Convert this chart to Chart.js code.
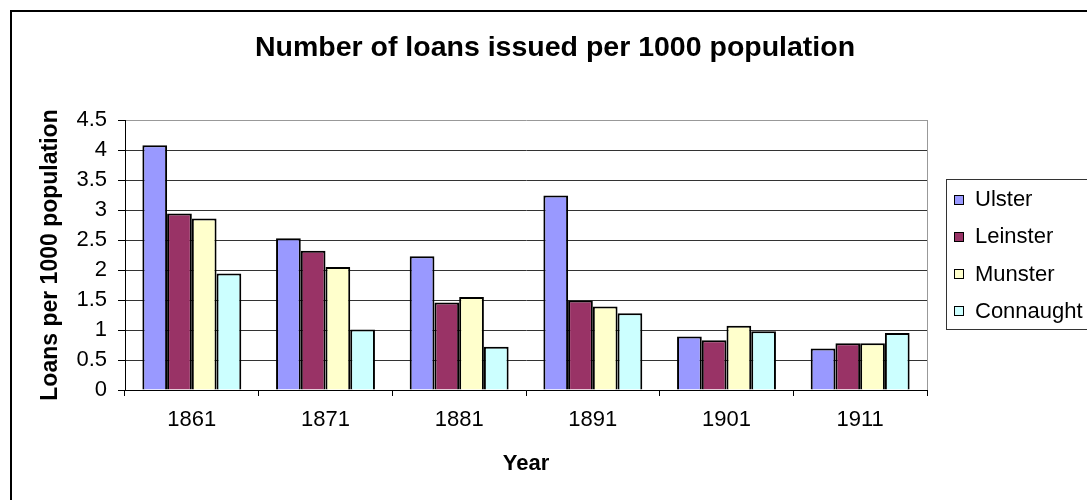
<!DOCTYPE html>
<html>
<head>
<meta charset="utf-8">
<script src="https://cdn.jsdelivr.net/npm/chart.js@4.4.1/dist/chart.umd.min.js"></script>
<style>
    body { margin: 0; overflow: hidden; background: #fff; }
    #wrap { position: absolute; left: 0; top: 0; width: 1087px; height: 500px; }
</style>
</head>
<body>
<div id="wrap"><canvas id="myChart" width="1087" height="500"></canvas></div>
<script>
const years = ['1861', '1871', '1881', '1891', '1901', '1911'];
const ulster = [4.08, 2.53, 2.23, 3.24, 0.89, 0.69];
const leinster = [2.94, 2.32, 1.46, 1.49, 0.83, 0.78];
const munster = [2.86, 2.05, 1.55, 1.39, 1.07, 0.78];
const connaught = [1.94, 1.01, 0.72, 1.28, 0.98, 0.95];

const FONT = '"Liberation Sans", Arial, sans-serif';

// outer frame, plot area border and the boxed legend
const framePlugin = {
    id: 'frame',
    beforeDraw(chart) {
        const c = chart.ctx;
        c.save();
        c.fillStyle = '#fff';
        c.fillRect(0, 0, chart.width, chart.height);
        c.strokeStyle = '#000';
        c.lineWidth = 2;
        c.strokeRect(11, 11, chart.width + 20, chart.height + 20);
        c.restore();
    },
    afterDraw(chart) {
        const c = chart.ctx;
        const a = chart.chartArea;
        c.save();
        c.strokeStyle = '#999';
        c.lineWidth = 1;
        c.beginPath();
        c.moveTo(Math.round(a.right) + 0.5, a.top);
        c.lineTo(Math.round(a.right) + 0.5, a.bottom);
        c.stroke();

        // legend
        const sets = chart.data.datasets;
        const step = 37.3;
        const mid = (a.top + a.bottom) / 2;
        const boxLeft = a.right + 19;
        const firstY = mid - step * (sets.length - 1) / 2;
        const lastY = firstY + step * (sets.length - 1);
        c.strokeStyle = '#333';
        c.strokeRect(Math.round(boxLeft) + 0.5, Math.round(firstY - 20) + 0.5, 300, Math.round(lastY - firstY + 38));
        c.font = '22px ' + FONT;
        c.textBaseline = 'middle';
        c.textAlign = 'left';
        sets.forEach((ds, i) => {
            const y = firstY + i * step;
            const bx = Math.round(boxLeft + 8);
            const by = Math.round(y - 4.5);
            c.fillStyle = ds.backgroundColor;
            c.fillRect(bx, by, 9, 9);
            c.strokeStyle = '#000';
            c.strokeRect(bx + 0.5, by + 0.5, 9, 9);
            c.fillStyle = '#000';
            c.fillText(ds.label, boxLeft + 29, y + 1);
        });
        c.restore();
    }
};

const ctx = document.getElementById('myChart');

const myChart = new Chart(ctx, {
    type: 'bar',
    data: {
        labels: years,
        datasets: [
            { label: 'Ulster', data: ulster, backgroundColor: '#9999FF' },
            { label: 'Leinster', data: leinster, backgroundColor: '#993366' },
            { label: 'Munster', data: munster, backgroundColor: '#FFFFCC' },
            { label: 'Connaught', data: connaught, backgroundColor: '#CCFFFF' }
        ]
    },
    options: {
        responsive: false,
        animation: false,
        layout: { padding: { left: 23, right: 0, top: 0, bottom: 0 } },
        datasets: {
            bar: {
                borderColor: '#000',
                borderWidth: 2,
                categoryPercentage: 0.74,
                barPercentage: 1
            }
        },
        scales: {
            x: {
                grid: {
                    drawOnChartArea: false,
                    drawTicks: true,
                    tickLength: 6,
                    tickColor: '#000'
                },
                border: { color: '#000', width: 1 },
                ticks: {
                    color: '#000',
                    font: { family: FONT, size: 22 },
                    padding: 11,
                    maxRotation: 0
                },
                title: {
                    display: true,
                    text: 'Year',
                    color: '#000',
                    font: { family: FONT, size: 22, weight: 'bold' },
                    padding: { top: 0, bottom: 23 }
                },
                afterFit(scale) { scale.height = 110; }
            },
            y: {
                min: 0,
                max: 4.5,
                grid: {
                    color: (c) => c.index === 9 ? '#999' : '#333',
                    tickColor: '#000',
                    tickLength: 7
                },
                border: { color: '#000', width: 1 },
                ticks: {
                    stepSize: 0.5,
                    color: '#000',
                    font: { family: FONT, size: 22 },
                    padding: 11,
                    callback: (v) => String(v)
                },
                title: {
                    display: true,
                    text: 'Loans per 1000 population',
                    color: '#000',
                    font: { family: FONT, size: 23, weight: 'bold' },
                    padding: { top: 14, bottom: 0 }
                },
                afterFit(scale) { scale.width = 102; }
            },
            // empty axis on the right that leaves room for the legend
            side: {
                type: 'linear',
                position: 'right',
                display: true,
                grid: { display: false },
                border: { display: false },
                ticks: { display: false },
                afterFit(scale) { scale.width = 160; }
            }
        },
        plugins: {
            legend: { display: false },
            tooltip: { enabled: false },
            title: {
                display: true,
                text: 'Number of loans issued per 1000 population',
                color: '#000',
                font: { family: FONT, size: 28.5, weight: 'bold' },
                padding: { top: 31, bottom: 54.8 }
            }
        }
    },
    plugins: [framePlugin]
});
</script>
</body>
</html>
